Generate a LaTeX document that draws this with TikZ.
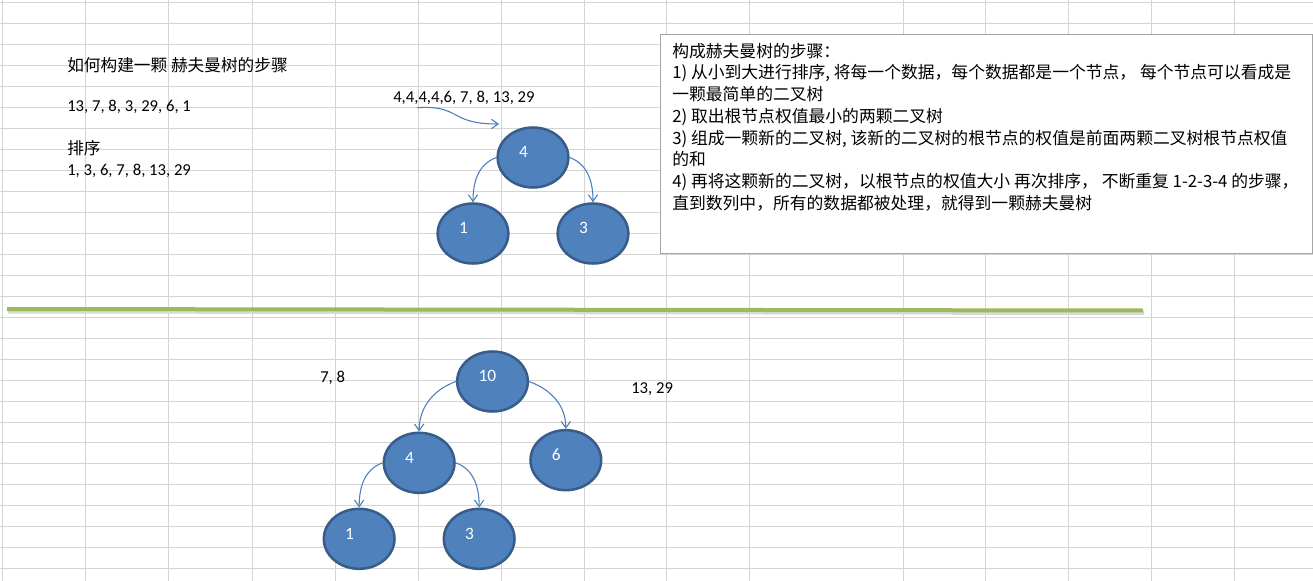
\documentclass[tikz,border=0pt]{standalone}
\usepackage{fontspec}
\setmainfont{Carlito}
\newfontfamily\cjk{Noto Sans CJK SC}
\usepackage{xcolor}
\definecolor{nodeblue}{RGB}{79, 129, 189}
\definecolor{nodeedge}{RGB}{56, 93, 138}
\definecolor{linkblue}{RGB}{74, 126, 187}
\definecolor{rulegreen}{RGB}{155, 187, 89}
\definecolor{cellgray}{RGB}{212, 212, 212}
\usepackage{tikz}
\usetikzlibrary{
    shapes.geometric,
    arrows.meta,
    positioning
}
\tikzset{hnode/.style={
    ellipse, draw=nodeedge,
    line width=1.9pt,
    fill=nodeblue,
    minimum width=53pt,
    minimum height=45pt,
    inner sep=0pt,
    label={[num]center:#1}
}}
\tikzstyle{num} = [
    text width=20pt,
    align=left,
    xshift=-0.5pt,
    yshift=4pt,
    inner sep=0pt,
    text=white,
    font=\fontsize{13}{15}\selectfont
]
\tikzstyle{lbl} = [
    anchor=west,
    inner sep=0pt,
    font=\fontsize{12.5}{15}\selectfont
]
\tikzstyle{cjklbl} = [
    lbl,
    font=\cjk\fontsize{12.5}{15}\selectfont
]
\tikzstyle{notebox} = [
    rectangle, draw=gray!70,
    fill=white,
    line width=0.75pt,
    anchor=north west,
    minimum width=489pt,
    minimum height=164pt
]
\tikzstyle{notetext} = [
    anchor=north west,
    align=left,
    inner sep=0pt,
    font=\cjk\fontsize{12.6}{16.3}\selectfont
]
\tikzstyle{cell} = [
    cellgray,
    line width=0.75pt
]
\tikzstyle{arrow} = [
    linkblue,
    line width=0.8pt,
    -{Straight Barb[length=5pt, width=7pt]}
]

\begin{document}
\begin{tikzpicture}[
    x=0.75pt, y=-0.75pt,
    node distance=57pt and 45pt,
    on grid
]
\useasboundingbox (0,0) rectangle (1313,581);

% Gitter
\foreach \gx in {2,85,168,252,335,418,501,584,666,749,903,985,1068,1151,1234}
    \draw [cell] (\gx,0) -- (\gx,581);
\foreach \gk in {0,...,27}
    \draw [cell] (0,{3+20.95*\gk}) -- (1313,{3+20.95*\gk});

\node (title) [cjklbl] at (67,65) {如何构建一颗 赫夫曼树的步骤};
\node (input) [lbl] at (67,107) {13, 7, 8, 3, 29, 6, 1};
\node (sorthead) [cjklbl] at (67,148) {排序};
\node (sorted) [lbl] at (67,171) {1, 3, 6, 7, 8, 13, 29};
\node (seq) [lbl] at (393,98) {4,4,4,4,6, 7, 8, 13, 29};

\node (steps) [notebox] at (660,34) {};
\node (stepstext) [notetext] at ([xshift=9pt, yshift=-6.5pt]steps.north west)
    {构成赫夫曼树的步骤：\\
     1) 从小到大进行排序, 将每一个数据，每个数据都是一个节点， 每个节点可以看成是\\
     一颗最简单的二叉树\\
     2) 取出根节点权值最小的两颗二叉树\\
     3) 组成一颗新的二叉树, 该新的二叉树的根节点的权值是前面两颗二叉树根节点权值\\
     的和\\
     4) 再将这颗新的二叉树，以根节点的权值大小 再次排序， 不断重复 1-2-3-4 的步骤，\\
     直到数列中，所有的数据都被处理，就得到一颗赫夫曼树};

\node (t4) [hnode=4] at (533,157.5) {};
\node (t1) [hnode=1, below left=of t4] {};
\node (t3) [hnode=3, below right=of t4] {};

\coordinate (tip) at (499,124);
\draw [arrow] ([xshift=18pt, yshift=-2pt]seq.south west)
    .. controls (462,105) and (448,124) .. (tip);
\draw [arrow] (t4.west) to[out=200, in=90] (t1.north);
\draw [arrow] (t4.east) to[out=-20, in=90] (t3.north);

% Trennlinie
\draw [gray!30, line width=3pt] (8,311.5) -- (1144,313);
\draw [rulegreen, line width=3pt] (7,309) -- (1143,310.5);

\node (left) [lbl] at (320,378) {7, 8};
\node (right) [lbl] at (631,389) {13, 29};

\node (b10) [hnode=10] at (492.5,381.5) {};
\node (b4) [hnode=4, below left=61pt and 55pt of b10] {};
\node (b6) [hnode=6, below right=59pt and 55pt of b10] {};
\node (b1) [hnode=1, below left=of b4] {};
\node (b3) [hnode=3, below right=of b4] {};

\draw [arrow] (b10.west) to[out=200, in=90] (b4.north);
\draw [arrow] (b10.east) to[out=-20, in=90] (b6.north);
\draw [arrow] (b4.west) to[out=200, in=90] (b1.north);
\draw [arrow] (b4.east) to[out=-20, in=90] (b3.north);

\end{tikzpicture}
\end{document}
